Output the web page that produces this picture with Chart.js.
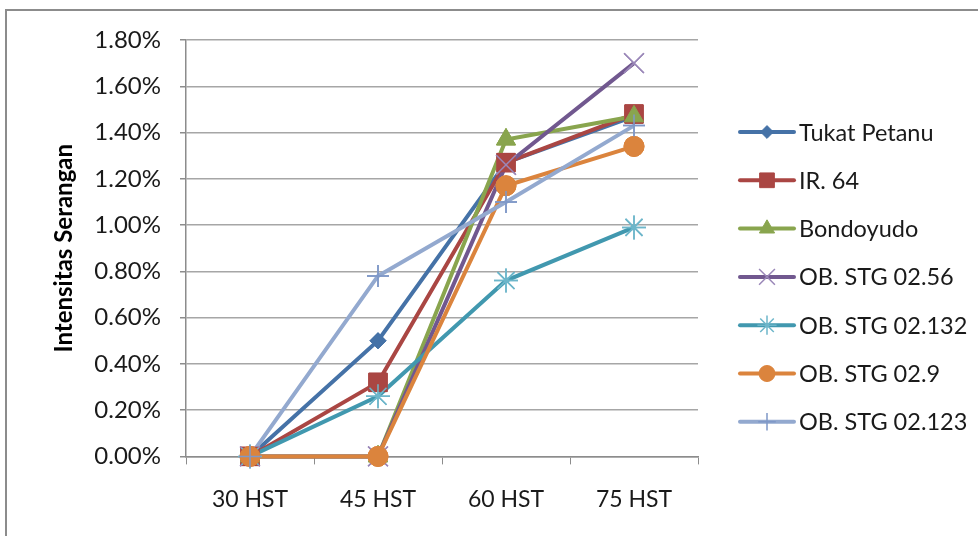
<!DOCTYPE html>
<html>
<head>
<meta charset="utf-8">
<script src="https://cdn.jsdelivr.net/npm/chart.js@4/dist/chart.umd.min.js"></script>
<style>
html,body{margin:0;padding:0;background:#fff;}
#wrap{position:relative;width:978px;height:536px;}
</style>
</head>
<body>
<div id="wrap"><canvas id="c" width="978" height="536"></canvas></div>
<script>
const categories = ['30 HST', '45 HST', '60 HST', '75 HST'];
const seriesNames = ['Tukat Petanu', 'IR. 64', 'Bondoyudo', 'OB. STG 02.56', 'OB. STG 02.132', 'OB. STG 02.9', 'OB. STG 02.123'];
const tukatPetanu = [0, 0.50, 1.27, 1.47];
const ir64 = [0, 0.32, 1.27, 1.48];
const bondoyudo = [0, 0, 1.37, 1.47];
const ob0256 = [0, 0, 1.26, 1.70];
const ob02132 = [0, 0.26, 0.76, 0.99];
const ob029 = [0, 0, 1.17, 1.34];
const ob02123 = [0, 0.78, 1.10, 1.43];
const yTicks = [0, 0.2, 0.4, 0.6, 0.8, 1.0, 1.2, 1.4, 1.6, 1.8];

const seriesValues = [tukatPetanu, ir64, bondoyudo, ob0256, ob02132, ob029, ob02123];
const styles = [
  {color:'#4572A7', mk:'#4572A7', ps:'rectRot', r:8, bw:1},
  {color:'#AA4643', mk:'#AA4643', ps:'rect', r:13, bw:1},
  {color:'#89A54E', mk:'#89A54E', ps:'triangle', r:11, bw:1},
  {color:'#71588F', mk:'#9A87B8', ps:'crossRot', r:14, bw:1.5},
  {color:'#4198AF', mk:'#6DB6CA', ps:'star', r:12, bw:1.5},
  {color:'#DB843D', mk:'#DB843D', ps:'circle', r:10, bw:1},
  {color:'#93A9CF', mk:'#7F98C8', ps:'cross', r:11, bw:1.5}
];
const FONT = 'Lato, "Open Sans", sans-serif';

const datasets = seriesNames.map((n,i)=>({
  label:n,
  data:seriesValues[i],
  order:seriesNames.length - i,
  borderColor:styles[i].color,
  backgroundColor:styles[i].mk,
  pointBorderColor:styles[i].mk,
  pointBackgroundColor:styles[i].mk,
  pointStyle:styles[i].ps,
  pointRadius:styles[i].r,
  pointBorderWidth:styles[i].bw,
  borderWidth:4,
  tension:0,
  clip:false
}));

// Excel draws all lines first, then all markers on top
const markersOnTop = {
  id:'markersOnTop',
  afterDatasetsDraw(chart){
    const ctx = chart.ctx;
    for (let i = 0; i < chart.data.datasets.length; i++) {
      const meta = chart.getDatasetMeta(i);
      meta.data.forEach(p => p.draw(ctx, chart.chartArea));
    }
  }
};

const legendPlugin = {
  id:'customLegend',
  afterDraw(chart){
    const ctx = chart.ctx;
    ctx.save();
    ctx.strokeStyle = '#8c8c8c';
    ctx.lineWidth = 2;
    ctx.strokeRect(6, 10, 975, 540);
    ctx.restore();
    const x0 = 740, x1 = 794, tx = 799, y0 = 132, dy = 48.3;
    chart.data.datasets.forEach((ds,i)=>{
      const y = y0 + i*dy;
      ctx.save();
      ctx.strokeStyle = ds.borderColor;
      ctx.lineWidth = 4;
      ctx.lineCap = 'round';
      ctx.beginPath(); ctx.moveTo(x0,y); ctx.lineTo(x1,y); ctx.stroke();
      ctx.restore();
      ctx.save();
      ctx.strokeStyle = ds.pointBorderColor;
      ctx.fillStyle = ds.pointBackgroundColor;
      ctx.lineWidth = ds.pointBorderWidth;
      Chart.helpers.drawPoint(ctx, {pointStyle:ds.pointStyle, radius:ds.pointRadius*0.8, rotation:0, borderWidth:ds.pointBorderWidth}, (x0+x1)/2, y);
      ctx.restore();
      ctx.save();
      ctx.fillStyle = '#1a1a1a';
      ctx.font = '23.5px ' + FONT;
      ctx.textBaseline = 'middle';
      ctx.textAlign = 'left';
      ctx.fillText(ds.label, tx, y+1);
      ctx.restore();
    });
  }
};

new Chart(document.getElementById('c'), {
  type:'line',
  data:{labels:categories, datasets},
  options:{
    responsive:false,
    animation:false,
    layout:{padding:{left:50, top:40, right:280, bottom:2}},
    plugins:{legend:{display:false}, tooltip:{enabled:false}},
    scales:{
      x:{
        offset:true,
        grid:{offset:true, drawOnChartArea:false, drawTicks:true, tickLength:8, color:'#8c8c8c', tickColor:'#8c8c8c'},
        border:{color:'#8c8c8c', width:1.5},
        ticks:{color:'#1a1a1a', font:{family:FONT, size:23}, padding:21}
      },
      y:{
        min:0, max:1.8,
        afterBuildTicks(s){ s.ticks = yTicks.map(v=>({value:v})); },
        afterFit(s){ s.width = 136; },
        grid:{color:'#a6a6a6', lineWidth:1.5, tickLength:6, tickColor:'#8c8c8c'},
        border:{color:'#8c8c8c', width:1.5},
        ticks:{color:'#1a1a1a', font:{family:FONT, size:24}, padding:19, callback:v=>v.toFixed(2)+'%'},
        title:{display:true, text:'Intensitas Serangan', color:'#000', font:{family:FONT, size:24, weight:'bold'}, padding:{top:0,bottom:0}}
      }
    }
  },
  plugins:[markersOnTop, legendPlugin]
});
</script>
</body>
</html>
